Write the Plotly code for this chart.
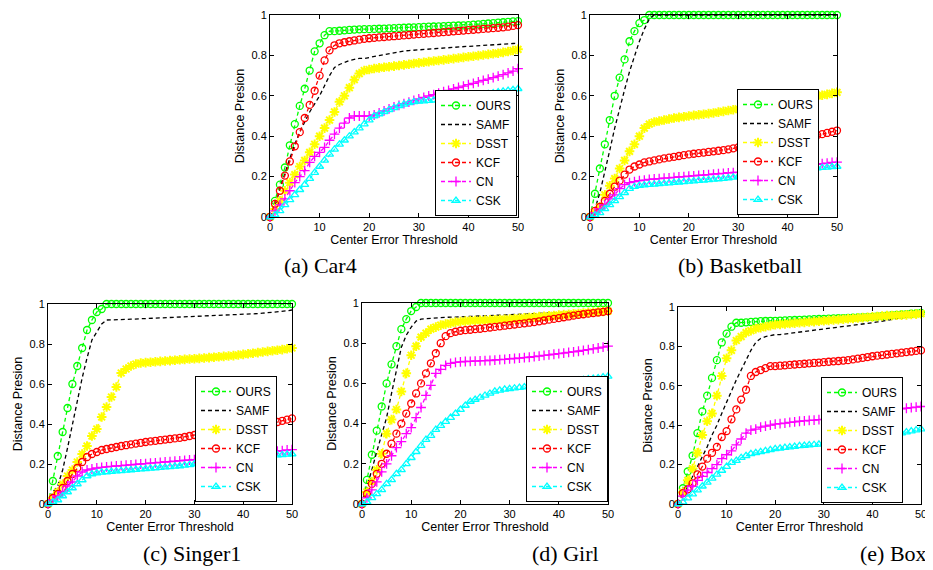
import plotly.graph_objects as go

# ---------------- data ----------------
thresholds = list(range(51))
methods = ["OURS", "SAMF", "DSST", "KCF", "CN", "CSK"]
x_ticks = [0, 10, 20, 30, 40, 50]
y_ticks = [0, 0.2, 0.4, 0.6, 0.8, 1]
y_tick_text = ["0", "0.2", "0.4", "0.6", "0.8", "1"]
captions = ["(a) Car4", "(b) Basketball", "(c) Singer1", "(d) Girl", "(e) Box"]

car4_ours = [0, 0.08, 0.16, 0.245, 0.355, 0.46, 0.55, 0.635, 0.725, 0.82, 0.86, 0.90, 0.92, 0.92, 0.922, 0.924, 0.926,
             0.928, 0.929, 0.93, 0.93, 0.931, 0.932, 0.933, 0.934, 0.935, 0.936, 0.937, 0.938, 0.939, 0.94, 0.941,
             0.942, 0.943, 0.944, 0.945, 0.946, 0.947, 0.948, 0.949, 0.95, 0.952, 0.954, 0.956, 0.958, 0.96, 0.962,
             0.964, 0.966, 0.968, 0.97]
car4_samf = [0, 0.05, 0.14, 0.22, 0.29, 0.36, 0.42, 0.47, 0.52, 0.56, 0.60, 0.65, 0.70, 0.74, 0.755, 0.765, 0.775,
             0.78, 0.785, 0.785, 0.79, 0.795, 0.80, 0.805, 0.81, 0.815, 0.82, 0.822, 0.824, 0.826, 0.828, 0.83, 0.832,
             0.834, 0.836, 0.838, 0.84, 0.842, 0.843, 0.844, 0.845, 0.846, 0.848, 0.85, 0.852, 0.853, 0.854, 0.856,
             0.858, 0.859, 0.86]
car4_dsst = [0, 0.04, 0.08, 0.13, 0.17, 0.21, 0.25, 0.28, 0.32, 0.36, 0.40, 0.44, 0.48, 0.52, 0.57, 0.60, 0.64, 0.68,
             0.71, 0.725, 0.73, 0.735, 0.738, 0.741, 0.744, 0.747, 0.75, 0.753, 0.756, 0.76, 0.763, 0.766, 0.769,
             0.772, 0.775, 0.778, 0.781, 0.784, 0.787, 0.79, 0.793, 0.796, 0.799, 0.802, 0.805, 0.808, 0.811, 0.815,
             0.819, 0.824, 0.83]
car4_kcf = [0, 0.065, 0.13, 0.205, 0.275, 0.35, 0.42, 0.49, 0.555, 0.625, 0.70, 0.775, 0.825, 0.85, 0.86, 0.865, 0.87,
            0.874, 0.878, 0.882, 0.885, 0.887, 0.889, 0.891, 0.893, 0.895, 0.897, 0.899, 0.901, 0.903, 0.905, 0.907,
            0.909, 0.911, 0.913, 0.915, 0.917, 0.919, 0.921, 0.923, 0.925, 0.927, 0.929, 0.931, 0.933, 0.935, 0.937,
            0.939, 0.942, 0.946, 0.95]
car4_cn = [0, 0.03, 0.06, 0.09, 0.13, 0.17, 0.20, 0.23, 0.27, 0.30, 0.32, 0.345, 0.38, 0.41, 0.44, 0.465, 0.49, 0.50,
           0.50, 0.50, 0.50, 0.505, 0.515, 0.525, 0.535, 0.545, 0.553, 0.561, 0.569, 0.577, 0.585, 0.592, 0.599, 0.606,
           0.613, 0.62, 0.627, 0.634, 0.641, 0.648, 0.655, 0.662, 0.669, 0.676, 0.683, 0.69, 0.697, 0.705, 0.713,
           0.722, 0.735]
car4_csk = [0, 0.01, 0.03, 0.06, 0.085, 0.11, 0.135, 0.16, 0.19, 0.22, 0.25, 0.28, 0.31, 0.335, 0.36, 0.38, 0.40, 0.42,
            0.44, 0.46, 0.48, 0.50, 0.51, 0.52, 0.53, 0.54, 0.55, 0.558, 0.565, 0.57, 0.572, 0.574, 0.576, 0.578, 0.58,
            0.583, 0.586, 0.589, 0.592, 0.595, 0.598, 0.601, 0.604, 0.607, 0.61, 0.614, 0.618, 0.622, 0.626, 0.63,
            0.635]

basketball_ours = [0, 0.115, 0.24, 0.36, 0.48, 0.60, 0.69, 0.78, 0.87, 0.92, 0.96, 0.975, 1.0, 1.0, 1.0, 1.0, 1.0,
                   1.0, 1.0, 1.0, 1.0, 1.0, 1.0, 1.0, 1.0, 1.0, 1.0, 1.0, 1.0, 1.0, 1.0, 1.0, 1.0, 1.0, 1.0, 1.0, 1.0,
                   1.0, 1.0, 1.0, 1.0, 1.0, 1.0, 1.0, 1.0, 1.0, 1.0, 1.0, 1.0, 1.0, 1.0]
basketball_samf = [0, 0.04, 0.12, 0.22, 0.33, 0.44, 0.54, 0.63, 0.72, 0.80, 0.87, 0.93, 0.98, 1.0, 1.0, 1.0, 1.0,
                   1.0, 1.0, 1.0, 1.0, 1.0, 1.0, 1.0, 1.0, 1.0, 1.0, 1.0, 1.0, 1.0, 1.0, 1.0, 1.0, 1.0, 1.0, 1.0, 1.0,
                   1.0, 1.0, 1.0, 1.0, 1.0, 1.0, 1.0, 1.0, 1.0, 1.0, 1.0, 1.0, 1.0, 1.0]
basketball_dsst = [0, 0.025, 0.05, 0.11, 0.155, 0.19, 0.24, 0.28, 0.325, 0.36, 0.40, 0.44, 0.46, 0.47, 0.475, 0.48,
                   0.485, 0.49, 0.493, 0.496, 0.50, 0.503, 0.506, 0.509, 0.512, 0.515, 0.519, 0.523, 0.527, 0.531,
                   0.535, 0.539, 0.543, 0.547, 0.551, 0.555, 0.559, 0.563, 0.567, 0.571, 0.575, 0.579, 0.583, 0.587,
                   0.591, 0.595, 0.599, 0.603, 0.607, 0.612, 0.617]
basketball_kcf = [0, 0.03, 0.05, 0.08, 0.115, 0.15, 0.18, 0.21, 0.235, 0.25, 0.26, 0.27, 0.275, 0.28, 0.285, 0.29,
                  0.294, 0.298, 0.302, 0.306, 0.31, 0.313, 0.316, 0.319, 0.322, 0.325, 0.328, 0.331, 0.335, 0.34, 0.345,
                  0.348, 0.351, 0.354, 0.357, 0.36, 0.363, 0.366, 0.37, 0.374, 0.378, 0.382, 0.386, 0.39, 0.395, 0.40,
                  0.405, 0.41, 0.416, 0.422, 0.428]
basketball_cn = [0, 0.02, 0.04, 0.06, 0.09, 0.11, 0.14, 0.16, 0.17, 0.175, 0.18, 0.183, 0.186, 0.188, 0.19, 0.192,
                 0.194, 0.196, 0.198, 0.20, 0.202, 0.204, 0.206, 0.208, 0.21, 0.212, 0.214, 0.216, 0.218, 0.22, 0.222,
                 0.224, 0.226, 0.228, 0.23, 0.232, 0.234, 0.236, 0.238, 0.24, 0.243, 0.246, 0.249, 0.252, 0.255, 0.258,
                 0.261, 0.264, 0.267, 0.27, 0.272]
basketball_csk = [0, 0.01, 0.02, 0.04, 0.06, 0.08, 0.10, 0.12, 0.14, 0.15, 0.155, 0.158, 0.16, 0.162, 0.164, 0.166,
                  0.168, 0.17, 0.172, 0.174, 0.176, 0.178, 0.18, 0.182, 0.184, 0.186, 0.188, 0.19, 0.193, 0.196, 0.20,
                  0.202, 0.204, 0.206, 0.208, 0.21, 0.213, 0.216, 0.219, 0.222, 0.225, 0.228, 0.231, 0.234, 0.237, 0.24,
                  0.242, 0.244, 0.246, 0.248, 0.25]

singer1_ours = [0, 0.115, 0.24, 0.36, 0.48, 0.60, 0.69, 0.78, 0.87, 0.92, 0.96, 0.975, 1.0, 1.0, 1.0, 1.0, 1.0, 1.0,
                1.0, 1.0, 1.0, 1.0, 1.0, 1.0, 1.0, 1.0, 1.0, 1.0, 1.0, 1.0, 1.0, 1.0, 1.0, 1.0, 1.0, 1.0, 1.0, 1.0,
                1.0, 1.0, 1.0, 1.0, 1.0, 1.0, 1.0, 1.0, 1.0, 1.0, 1.0, 1.0, 1.0]
singer1_samf = [0, 0.06, 0.09, 0.17, 0.28, 0.40, 0.52, 0.63, 0.73, 0.82, 0.86, 0.90, 0.92, 0.92, 0.921, 0.922, 0.923,
                0.924, 0.925, 0.925, 0.926, 0.927, 0.928, 0.929, 0.93, 0.932, 0.934, 0.935, 0.936, 0.937, 0.938, 0.939,
                0.94, 0.94, 0.941, 0.942, 0.943, 0.944, 0.945, 0.946, 0.947, 0.948, 0.95, 0.952, 0.954, 0.956, 0.958,
                0.96, 0.963, 0.966, 0.97]
singer1_dsst = [0, 0.03, 0.06, 0.10, 0.14, 0.17, 0.21, 0.25, 0.29, 0.34, 0.375, 0.435, 0.485, 0.535, 0.585, 0.655,
                0.675, 0.69, 0.70, 0.705, 0.707, 0.709, 0.711, 0.713, 0.715, 0.717, 0.719, 0.721, 0.723, 0.725, 0.726,
                0.728, 0.73, 0.732, 0.734, 0.736, 0.738, 0.74, 0.742, 0.745, 0.748, 0.751, 0.754, 0.757, 0.76, 0.763,
                0.766, 0.769, 0.772, 0.776, 0.78]
singer1_kcf = [0, 0.03, 0.05, 0.08, 0.115, 0.15, 0.18, 0.21, 0.235, 0.25, 0.26, 0.27, 0.275, 0.28, 0.285, 0.29, 0.294,
               0.298, 0.302, 0.306, 0.31, 0.313, 0.316, 0.319, 0.322, 0.325, 0.328, 0.331, 0.335, 0.34, 0.345, 0.348,
               0.351, 0.354, 0.357, 0.36, 0.363, 0.366, 0.37, 0.374, 0.378, 0.382, 0.386, 0.39, 0.395, 0.40, 0.405,
               0.41, 0.416, 0.422, 0.428]
singer1_cn = [0, 0.02, 0.04, 0.06, 0.09, 0.11, 0.14, 0.16, 0.17, 0.175, 0.18, 0.183, 0.186, 0.188, 0.19, 0.192, 0.194,
              0.196, 0.198, 0.20, 0.202, 0.204, 0.206, 0.208, 0.21, 0.212, 0.214, 0.216, 0.218, 0.22, 0.222, 0.224,
              0.226, 0.228, 0.23, 0.232, 0.234, 0.236, 0.238, 0.24, 0.243, 0.246, 0.249, 0.252, 0.255, 0.258, 0.261,
              0.264, 0.267, 0.27, 0.272]
singer1_csk = [0, 0.01, 0.02, 0.04, 0.06, 0.08, 0.10, 0.12, 0.14, 0.15, 0.155, 0.158, 0.16, 0.162, 0.164, 0.166, 0.168,
               0.17, 0.172, 0.174, 0.176, 0.178, 0.18, 0.182, 0.184, 0.186, 0.188, 0.19, 0.193, 0.196, 0.20, 0.202,
               0.204, 0.206, 0.208, 0.21, 0.213, 0.216, 0.219, 0.222, 0.225, 0.228, 0.231, 0.234, 0.237, 0.24, 0.242,
               0.244, 0.246, 0.248, 0.25]

girl_ours = [0, 0.12, 0.245, 0.365, 0.485, 0.60, 0.695, 0.785, 0.87, 0.92, 0.96, 0.98, 1.0, 1.0, 1.0, 1.0, 1.0, 1.0,
             1.0, 1.0, 1.0, 1.0, 1.0, 1.0, 1.0, 1.0, 1.0, 1.0, 1.0, 1.0, 1.0, 1.0, 1.0, 1.0, 1.0, 1.0, 1.0, 1.0, 1.0,
             1.0, 1.0, 1.0, 1.0, 1.0, 1.0, 1.0, 1.0, 1.0, 1.0, 1.0, 1.0]
girl_samf = [0, 0.08, 0.17, 0.26, 0.34, 0.43, 0.55, 0.67, 0.78, 0.84, 0.88, 0.91, 0.92, 0.922, 0.924, 0.926, 0.928,
             0.929, 0.93, 0.93, 0.931, 0.932, 0.933, 0.934, 0.935, 0.936, 0.937, 0.938, 0.939, 0.94, 0.94, 0.941,
             0.942, 0.943, 0.944, 0.945, 0.946, 0.947, 0.948, 0.949, 0.95, 0.951, 0.952, 0.953, 0.954, 0.955, 0.957,
             0.959, 0.961, 0.963, 0.965]
girl_dsst = [0, 0.06, 0.11, 0.17, 0.25, 0.35, 0.42, 0.47, 0.56, 0.65, 0.74, 0.785, 0.83, 0.85, 0.87, 0.88, 0.89,
             0.895, 0.90, 0.905, 0.908, 0.91, 0.912, 0.913, 0.914, 0.915, 0.916, 0.917, 0.918, 0.919, 0.92, 0.922,
             0.924, 0.926, 0.928, 0.93, 0.932, 0.934, 0.936, 0.938, 0.94, 0.942, 0.944, 0.946, 0.948, 0.95, 0.952,
             0.954, 0.956, 0.958, 0.96]
girl_kcf = [0, 0.05, 0.10, 0.15, 0.20, 0.25, 0.30, 0.35, 0.40, 0.45, 0.50, 0.55, 0.60, 0.65, 0.70, 0.75, 0.80, 0.835,
            0.85, 0.857, 0.862, 0.865, 0.867, 0.87, 0.872, 0.875, 0.878, 0.881, 0.884, 0.887, 0.89, 0.893, 0.896,
            0.899, 0.902, 0.905, 0.909, 0.913, 0.917, 0.921, 0.925, 0.929, 0.933, 0.937, 0.941, 0.944, 0.947, 0.95,
            0.953, 0.956, 0.96]
girl_cn = [0, 0.03, 0.07, 0.11, 0.16, 0.20, 0.24, 0.28, 0.31, 0.35, 0.38, 0.43, 0.48, 0.54, 0.59, 0.65, 0.67, 0.69,
           0.70, 0.705, 0.707, 0.709, 0.71, 0.711, 0.712, 0.713, 0.714, 0.716, 0.718, 0.72, 0.722, 0.724, 0.726, 0.728,
           0.73, 0.733, 0.736, 0.739, 0.742, 0.745, 0.748, 0.751, 0.754, 0.757, 0.76, 0.764, 0.768, 0.772, 0.776,
           0.78, 0.785]
girl_csk = [0, 0.01, 0.03, 0.05, 0.07, 0.10, 0.12, 0.15, 0.17, 0.20, 0.23, 0.26, 0.29, 0.32, 0.34, 0.37, 0.39, 0.41,
            0.43, 0.45, 0.47, 0.49, 0.51, 0.52, 0.53, 0.54, 0.55, 0.56, 0.565, 0.57, 0.573, 0.576, 0.579, 0.582, 0.585,
            0.588, 0.591, 0.594, 0.597, 0.60, 0.603, 0.606, 0.609, 0.612, 0.615, 0.618, 0.621, 0.624, 0.627, 0.631,
            0.635]

box_ours = [0, 0.08, 0.165, 0.245, 0.36, 0.47, 0.55, 0.64, 0.73, 0.82, 0.865, 0.90, 0.92, 0.92, 0.922, 0.924, 0.926,
            0.928, 0.929, 0.93, 0.93, 0.931, 0.932, 0.933, 0.934, 0.935, 0.936, 0.937, 0.938, 0.939, 0.94, 0.941,
            0.942, 0.943, 0.944, 0.945, 0.946, 0.947, 0.948, 0.949, 0.95, 0.952, 0.954, 0.956, 0.958, 0.96, 0.962,
            0.964, 0.966, 0.968, 0.97]
box_samf = [0, 0.04, 0.09, 0.14, 0.19, 0.24, 0.29, 0.35, 0.40, 0.46, 0.52, 0.58, 0.63, 0.68, 0.73, 0.78, 0.82, 0.84,
            0.85, 0.855, 0.86, 0.86, 0.863, 0.866, 0.869, 0.872, 0.875, 0.878, 0.881, 0.885, 0.89, 0.893, 0.896,
            0.899, 0.902, 0.905, 0.908, 0.911, 0.914, 0.917, 0.92, 0.924, 0.928, 0.932, 0.936, 0.94, 0.944, 0.948,
            0.952, 0.957, 0.962]
box_dsst = [0, 0.06, 0.12, 0.18, 0.26, 0.35, 0.42, 0.46, 0.55, 0.65, 0.74, 0.78, 0.83, 0.85, 0.87, 0.88, 0.89, 0.895,
            0.90, 0.905, 0.91, 0.912, 0.914, 0.916, 0.918, 0.92, 0.922, 0.924, 0.926, 0.928, 0.93, 0.932, 0.934,
            0.936, 0.938, 0.94, 0.942, 0.944, 0.946, 0.948, 0.95, 0.952, 0.954, 0.956, 0.957, 0.958, 0.959, 0.96,
            0.962, 0.964, 0.966]
box_kcf = [0, 0.055, 0.075, 0.105, 0.15, 0.19, 0.23, 0.26, 0.29, 0.34, 0.37, 0.43, 0.48, 0.53, 0.58, 0.65, 0.67, 0.68,
           0.69, 0.70, 0.70, 0.702, 0.704, 0.706, 0.708, 0.71, 0.712, 0.714, 0.716, 0.718, 0.72, 0.722, 0.724, 0.726,
           0.728, 0.73, 0.734, 0.738, 0.742, 0.746, 0.75, 0.753, 0.756, 0.759, 0.762, 0.765, 0.768, 0.771, 0.774,
           0.777, 0.78]
box_cn = [0, 0.04, 0.07, 0.09, 0.12, 0.14, 0.16, 0.18, 0.20, 0.23, 0.25, 0.27, 0.30, 0.33, 0.36, 0.375, 0.38, 0.39,
          0.395, 0.40, 0.405, 0.408, 0.411, 0.414, 0.417, 0.42, 0.422, 0.424, 0.426, 0.428, 0.43, 0.433, 0.436, 0.439,
          0.442, 0.445, 0.448, 0.451, 0.454, 0.457, 0.46, 0.464, 0.468, 0.472, 0.476, 0.48, 0.483, 0.486, 0.489,
          0.492, 0.495]
box_csk = [0, 0.01, 0.03, 0.05, 0.07, 0.09, 0.11, 0.13, 0.15, 0.17, 0.19, 0.21, 0.22, 0.235, 0.245, 0.255, 0.26, 0.265,
           0.27, 0.275, 0.28, 0.283, 0.286, 0.289, 0.292, 0.295, 0.297, 0.299, 0.301, 0.303, 0.305, 0.308, 0.311,
           0.314, 0.317, 0.32, 0.323, 0.326, 0.329, 0.332, 0.335, 0.339, 0.343, 0.347, 0.351, 0.355, 0.36, 0.365,
           0.37, 0.375, 0.38]

panels = [
    [car4_ours, car4_samf, car4_dsst, car4_kcf, car4_cn, car4_csk],
    [basketball_ours, basketball_samf, basketball_dsst, basketball_kcf, basketball_cn, basketball_csk],
    [singer1_ours, singer1_samf, singer1_dsst, singer1_kcf, singer1_cn, singer1_csk],
    [girl_ours, girl_samf, girl_dsst, girl_kcf, girl_cn, girl_csk],
    [box_ours, box_samf, box_dsst, box_kcf, box_cn, box_csk],
]
for p in panels:
    for s in p:
        assert len(s) == len(thresholds), len(s)

# ---------------- styling ----------------
# the page body has an 8px margin, so the figure is drawn at (8, 8)
OFF = 8
W, H = 933 - OFF, 570 - OFF


def px(x):
    return (x - OFF) / W


def py(y):
    return 1 - (y - OFF) / H


# plot-area pixel boxes in the 933x570 window (left, right, top, bottom)
boxes = [(270, 518, 15, 217), (590, 837, 15, 217),
         (48, 292, 304, 504), (362, 608, 303, 504), (678, 921, 307, 504)]
legend_boxes = [(517, 216), (819, 215), (277, 502), (608, 502), (903, 503)]
caption_pos = [(320, 265), (740, 265), (192, 553), (565, 553), (893, 553)]

style = {
    "OURS": dict(color="#00ff00", symbol="circle-open", marker=True),
    "SAMF": dict(color="#000000", symbol=None, marker=False),
    "DSST": dict(color="#ffff00", symbol="asterisk-open", marker=True),
    "KCF": dict(color="#ff0000", symbol="circle-open", marker=True),
    "CN": dict(color="#ff00ff", symbol="cross-thin-open", marker=True),
    "CSK": dict(color="#00ffff", symbol="triangle-up-open", marker=True),
}

AX_FONT = "Liberation Sans, Arial, sans-serif"
fig = go.Figure()

for i, series in enumerate(panels):
    xa = "x" if i == 0 else f"x{i+1}"
    ya = "y" if i == 0 else f"y{i+1}"
    lg = "legend" if i == 0 else f"legend{i+1}"
    for name, vals in zip(methods, series):
        st = style[name]
        mode = "lines+markers" if st["marker"] else "lines"
        tr = dict(x=thresholds, y=vals, name=name, mode=mode, xaxis=xa, yaxis=ya,
                  legend=lg, cliponaxis=False,
                  line=dict(color=st["color"], width=1.3, dash="4px,3px"))
        if st["marker"]:
            tr["marker"] = dict(symbol=st["symbol"], size=7 if name != "DSST" else 8,
                                color=st["color"],
                                line=dict(color=st["color"], width=1.3 if name != "DSST" else 2))
        fig.add_trace(go.Scatter(**tr))

layout = dict(width=W, height=H, margin=dict(l=0, r=0, t=0, b=0),
              paper_bgcolor="white", plot_bgcolor="white", template="none",
              font=dict(family=AX_FONT, size=11, color="black"))

for i, (l, r, t, b) in enumerate(boxes):
    kx = "xaxis" if i == 0 else f"xaxis{i+1}"
    ky = "yaxis" if i == 0 else f"yaxis{i+1}"
    ya = "y" if i == 0 else f"y{i+1}"
    xa = "x" if i == 0 else f"x{i+1}"
    layout[kx] = dict(domain=[px(l), px(r)], anchor=ya, range=[0, 50], tickvals=x_ticks,
                      showgrid=False, zeroline=False, showline=True, linecolor="black", linewidth=1,
                      mirror="ticks", ticks="inside", ticklen=4, tickcolor="black",
                      tickfont=dict(family=AX_FONT, size=11, color="black"),
                      title=dict(text="Center Error Threshold", standoff=3,
                                 font=dict(family=AX_FONT, size=12.5, color="black")))
    layout[ky] = dict(domain=[py(b), py(t)], anchor=xa, range=[0, 1], tickvals=y_ticks,
                      ticktext=y_tick_text,
                      showgrid=False, zeroline=False, showline=True, linecolor="black", linewidth=1,
                      mirror="ticks", ticks="inside", ticklen=4, tickcolor="black",
                      tickfont=dict(family=AX_FONT, size=11, color="black"),
                      title=dict(text="Distance Presion", standoff=4,
                                 font=dict(family=AX_FONT, size=12.5, color="black")))
    lk = "legend" if i == 0 else f"legend{i+1}"
    lx, ly = legend_boxes[i]
    layout[lk] = dict(x=px(lx), y=py(ly), xanchor="right", yanchor="bottom",
                      bgcolor="white", bordercolor="black", borderwidth=1,
                      font=dict(family=AX_FONT, size=12, color="black"),
                      tracegroupgap=0, itemwidth=30)

annotations = []
for (cx, cy), txt in zip(caption_pos, captions):
    annotations.append(dict(text=txt, x=px(cx), y=py(cy), xref="paper", yref="paper",
                            xanchor="center", yanchor="middle", showarrow=False,
                            font=dict(family="Liberation Serif, Times New Roman, serif", size=22,
                                      color="black")))
layout["annotations"] = annotations
fig.update_layout(**layout)
fig.write_html("out.html")
